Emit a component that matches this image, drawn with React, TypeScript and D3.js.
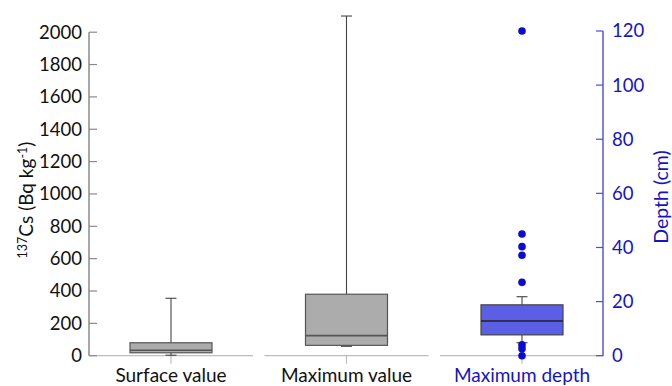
import React from "react";
import * as d3 from "d3";

const categories = ["Surface value", "Maximum value", "Maximum depth"];
// box stats: [whiskerLow, q1, median, q3, whiskerHigh]
const surfaceStats = [3, 18, 34, 80, 355];
const maxValueStats = [58, 64, 124, 380, 2100];
const depthStats = [4.8, 7.7, 12.8, 18.8, 21.8];
const depthOutliers = [120, 45, 40.3, 37.1, 27.1, 4, 2.6, 0];
const leftTicks = [0, 200, 400, 600, 800, 1000, 1200, 1400, 1600, 1800, 2000];
const rightTicks = [0, 20, 40, 60, 80, 100, 120];

const W = 672;
const H = 386;
const FONT = "Lato, 'Open Sans', sans-serif";
const BLUE_TEXT = "#1414c4";
const BLUE_AXIS = "#4b4be0";

export default function App() {
  const x = d3.scaleBand().domain(categories).range([83.25, 609.75]).padding(0);
  const yL = d3.scaleLinear().domain([0, 2000]).range([355.7, 32.2]);
  const yR = d3.scaleLinear().domain([0, 120]).range([355.7, 31]);
  const bw = 82;
  const cap = 11;
  const cx = (c: string) => (x(c) as number) + x.bandwidth() / 2;

  const renderBox = (
    c: string,
    s: number[],
    y: d3.ScaleLinear<number, number>,
    fill: string,
    stroke: string,
    median: string
  ) => {
    const m = cx(c);
    const [lo, q1, med, q3, hi] = s;
    return (
      <g key={c}>
        <line x1={m} x2={m} y1={y(hi)} y2={y(q3)} stroke="#444" strokeWidth={1.1} />
        <line x1={m} x2={m} y1={y(q1)} y2={y(lo)} stroke="#444" strokeWidth={1.1} />
        <line x1={m - cap / 2} x2={m + cap / 2} y1={y(hi)} y2={y(hi)} stroke="#444" strokeWidth={1.1} />
        <line x1={m - cap / 2} x2={m + cap / 2} y1={y(lo)} y2={y(lo)} stroke="#444" strokeWidth={1.1} />
        <rect x={m - bw / 2} y={y(q3)} width={bw} height={y(q1) - y(q3)} fill={fill} stroke={stroke} strokeWidth={1.2} />
        <line x1={m - bw / 2} x2={m + bw / 2} y1={y(med)} y2={y(med)} stroke={median} strokeWidth={1.6} />
      </g>
    );
  };

  return (
    <svg width={W} height={H} style={{ position: "absolute", left: 0, top: 0, fontFamily: FONT }}>
      <rect width={W} height={H} fill="#fff" />
      {/* baseline segments and category ticks */}
      {categories.map((c) => (
        <g key={"seg" + c}>
          <line x1={cx(c) - 82} x2={cx(c) + 82} y1={yL(0)} y2={yL(0)} stroke="#bdbdbd" strokeWidth={1.2} />
          <line x1={cx(c)} x2={cx(c)} y1={yL(0)} y2={yL(0) + 8} stroke="#bdbdbd" strokeWidth={1.2} />
        </g>
      ))}
      {/* left axis */}
      <line x1={89} x2={89} y1={yL(2000)} y2={yL(0)} stroke="#8a8a8a" strokeWidth={1.5} />
      {leftTicks.map((t) => (
        <g key={"l" + t}>
          <line x1={89} x2={97} y1={yL(t)} y2={yL(t)} stroke="#8a8a8a" strokeWidth={1.2} />
          <text x={82} y={yL(t)} dy="0.35em" textAnchor="end" fontSize={18.5} fill="#111">
            {t}
          </text>
        </g>
      ))}
      {/* right axis */}
      <line x1={603} x2={603} y1={yR(120)} y2={yR(0)} stroke={BLUE_AXIS} strokeWidth={1.4} />
      {rightTicks.map((t) => (
        <g key={"r" + t}>
          <line x1={596} x2={603} y1={yR(t)} y2={yR(t)} stroke={BLUE_AXIS} strokeWidth={1.2} />
          <text x={612} y={yR(t)} dy="0.35em" textAnchor="start" fontSize={18.5} fill={BLUE_TEXT}>
            {t}
          </text>
        </g>
      ))}
      {/* boxes */}
      {renderBox(categories[0], surfaceStats, yL, "#acacac", "#555", "#555")}
      {renderBox(categories[1], maxValueStats, yL, "#acacac", "#555", "#555")}
      {renderBox(categories[2], depthStats, yR, "#5a5fe6", "#444", "#222")}
      {depthOutliers.map((v, i) => (
        <circle key={"o" + i} cx={cx(categories[2])} cy={yR(v)} r={3.8} fill="#0a0ad0" />
      ))}
      {/* category labels */}
      {categories.map((c, i) => (
        <text key={"cl" + c} x={cx(c)} y={381.5} textAnchor="middle" fontSize={19} fill={i === 2 ? BLUE_TEXT : "#111"}>
          {c}
        </text>
      ))}
      {/* left title */}
      <text transform={`translate(33,200) rotate(-90)`} textAnchor="middle" fontSize={19} fill="#111">
        <tspan fontSize={12.5} dy="-6">137</tspan>
        <tspan dy="6">Cs (Bq kg</tspan>
        <tspan fontSize={12.5} dy="-6">-1</tspan>
        <tspan dy="6">)</tspan>
      </text>
      {/* right title */}
      <text transform={`translate(668,197) rotate(-90)`} textAnchor="middle" fontSize={19.5} fill={BLUE_TEXT}>
        Depth (cm)
      </text>
    </svg>
  );
}
